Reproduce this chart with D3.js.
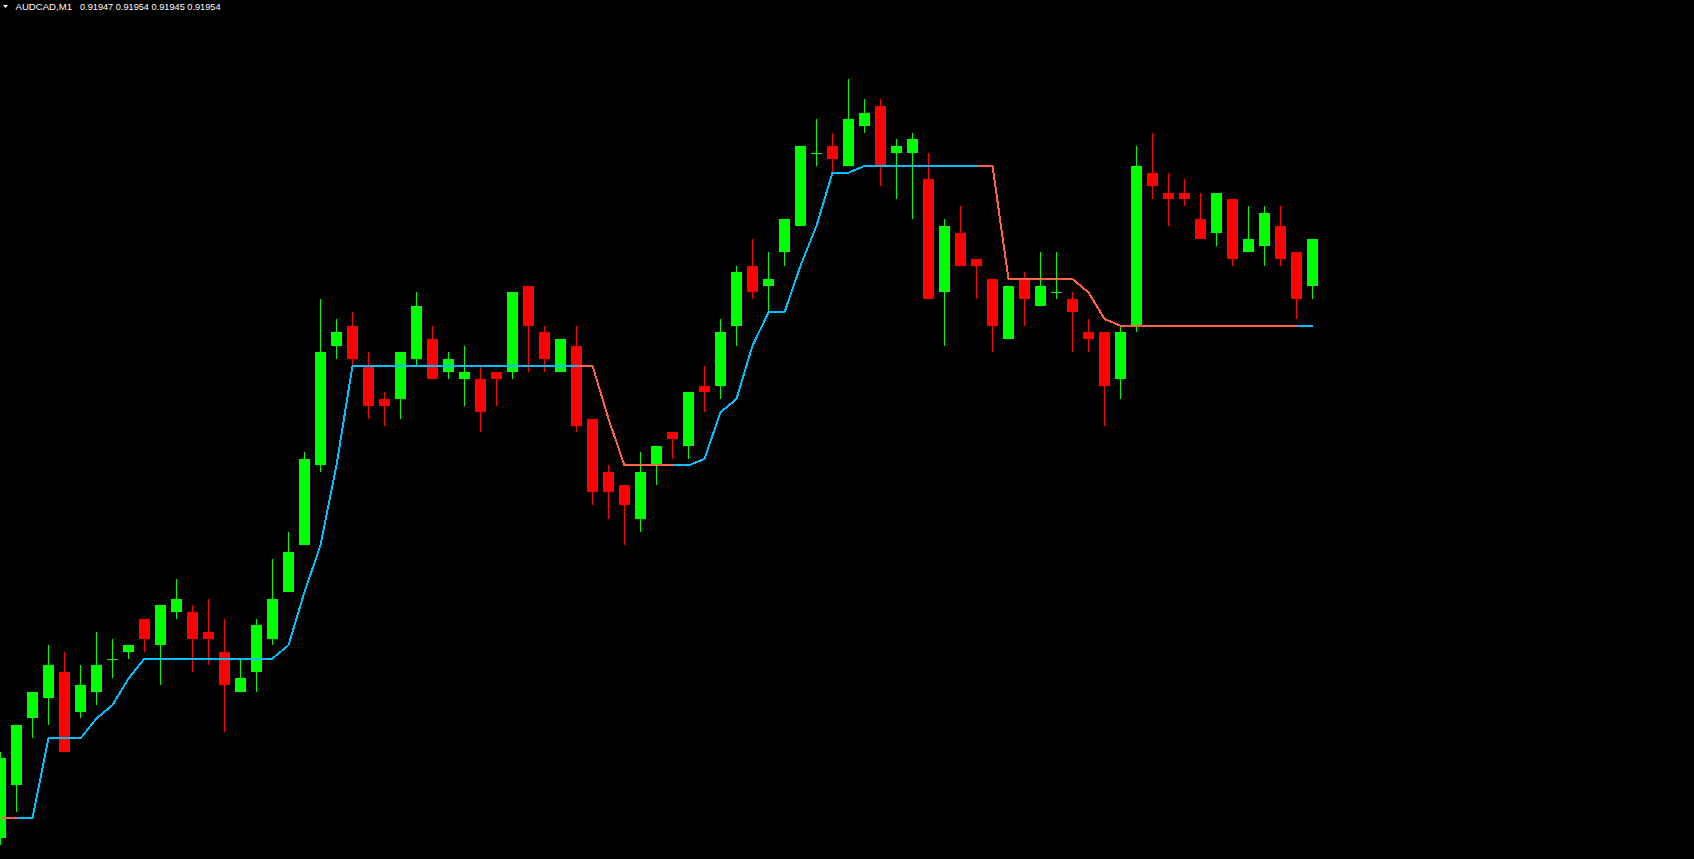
<!DOCTYPE html>
<html lang="en">

<head>
    <meta charset="UTF-8">
    <title>AUDCAD,M1</title>
    <script src="https://d3js.org/d3.v7.min.js"></script>
    <style>
        html, body { margin: 0; padding: 0; background: #000; overflow: hidden; }
    </style>
</head>

<body>
    <div id="chart-container"></div>
    <script>
        const symbol = 'AUDCAD,M1';

        // one value per bar, oldest first
        const openPrices = [
            0.91864, 0.91872, 0.91882, 0.91885, 0.91889, 0.91883, 0.91886, 0.91891, 0.91892, 0.91897,
            0.91893, 0.91898, 0.91898, 0.91895, 0.91892, 0.91886, 0.91889, 0.91894, 0.91901, 0.91908,
            0.91920, 0.91938, 0.91941, 0.91935, 0.91930, 0.91930, 0.91936, 0.91939, 0.91934, 0.91933,
            0.91933, 0.91934, 0.91934, 0.91947, 0.91940, 0.91934, 0.91938, 0.91927, 0.91919, 0.91917,
            0.91912, 0.91920, 0.91925, 0.91923, 0.91932, 0.91932, 0.91941, 0.91950, 0.91947, 0.91952,
            0.91956, 0.91967, 0.91968, 0.91965, 0.91971, 0.91974, 0.91967, 0.91967, 0.91963, 0.91946,
            0.91955, 0.91951, 0.91948, 0.91939, 0.91948, 0.91944, 0.91946, 0.91945, 0.91940, 0.91940,
            0.91933, 0.91941, 0.91964, 0.91961, 0.91961, 0.91957, 0.91955, 0.91960, 0.91952, 0.91953,
            0.91956, 0.91952, 0.91947
        ];
        const highPrices = [
            0.91877, 0.91881, 0.91886, 0.91893, 0.91892, 0.91890, 0.91895, 0.91894, 0.91893, 0.91897,
            0.91899, 0.91903, 0.91899, 0.91900, 0.91897, 0.91891, 0.91897, 0.91906, 0.91910, 0.91922,
            0.91945, 0.91942, 0.91943, 0.91937, 0.91931, 0.91937, 0.91946, 0.91941, 0.91937, 0.91938,
            0.91935, 0.91934, 0.91946, 0.91947, 0.91941, 0.91939, 0.91941, 0.91927, 0.91920, 0.91917,
            0.91922, 0.91923, 0.91925, 0.91931, 0.91935, 0.91942, 0.91950, 0.91954, 0.91952, 0.91957,
            0.91968, 0.91972, 0.91970, 0.91978, 0.91975, 0.91975, 0.91969, 0.91970, 0.91967, 0.91957,
            0.91959, 0.91951, 0.91948, 0.91947, 0.91949, 0.91952, 0.91952, 0.91946, 0.91942, 0.91940,
            0.91941, 0.91968, 0.91970, 0.91964, 0.91963, 0.91961, 0.91961, 0.91960, 0.91959, 0.91959,
            0.91959, 0.91952, 0.91954
        ];
        const lowPrices = [
            0.91863, 0.91868, 0.91879, 0.91881, 0.91877, 0.91882, 0.91884, 0.91888, 0.91891, 0.91892,
            0.91887, 0.91897, 0.91889, 0.91890, 0.91880, 0.91886, 0.91886, 0.91893, 0.91901, 0.91908,
            0.91919, 0.91936, 0.91935, 0.91927, 0.91926, 0.91927, 0.91935, 0.91933, 0.91933, 0.91929,
            0.91925, 0.91929, 0.91933, 0.91934, 0.91934, 0.91934, 0.91925, 0.91914, 0.91912, 0.91908,
            0.91910, 0.91917, 0.91921, 0.91921, 0.91928, 0.91930, 0.91938, 0.91945, 0.91943, 0.91950,
            0.91956, 0.91965, 0.91964, 0.91965, 0.91970, 0.91962, 0.91960, 0.91957, 0.91945, 0.91938,
            0.91950, 0.91945, 0.91937, 0.91939, 0.91941, 0.91944, 0.91945, 0.91937, 0.91937, 0.91926,
            0.91930, 0.91940, 0.91960, 0.91956, 0.91959, 0.91954, 0.91953, 0.91950, 0.91952, 0.91950,
            0.91950, 0.91942, 0.91945
        ];
        const closePrices = [
            0.91876, 0.91881, 0.91886, 0.91890, 0.91877, 0.91887, 0.91890, 0.91891, 0.91893, 0.91894,
            0.91899, 0.91900, 0.91894, 0.91894, 0.91887, 0.91888, 0.91896, 0.91900, 0.91907, 0.91921,
            0.91937, 0.91940, 0.91936, 0.91929, 0.91929, 0.91937, 0.91944, 0.91933, 0.91936, 0.91934,
            0.91928, 0.91933, 0.91946, 0.91941, 0.91936, 0.91939, 0.91926, 0.91916, 0.91916, 0.91914,
            0.91919, 0.91923, 0.91924, 0.91931, 0.91931, 0.91940, 0.91949, 0.91946, 0.91948, 0.91957,
            0.91968, 0.91967, 0.91966, 0.91972, 0.91973, 0.91965, 0.91968, 0.91969, 0.91945, 0.91956,
            0.91950, 0.91950, 0.91941, 0.91947, 0.91945, 0.91947, 0.91946, 0.91943, 0.91939, 0.91932,
            0.91940, 0.91965, 0.91962, 0.91960, 0.91960, 0.91954, 0.91961, 0.91951, 0.91954, 0.91958,
            0.91951, 0.91945, 0.91954
        ];

        // trailing stop, split in two buffers like the indicator does (null = empty)
        const upStop = [
            null, 0.91867, 0.91867, 0.91879, 0.91879, 0.91879, 0.91882, 0.91884, 0.91888, 0.91891,
            0.91891, 0.91891, 0.91891, 0.91891, 0.91891, 0.91891, 0.91891, 0.91891, 0.91893, 0.91901,
            0.91908, 0.91920, 0.91935, 0.91935, 0.91935, 0.91935, 0.91935, 0.91935, 0.91935, 0.91935,
            0.91935, 0.91935, 0.91935, 0.91935, 0.91935, 0.91935, 0.91935, null, null, null,
            null, null, 0.91920, 0.91920, 0.91921, 0.91928, 0.91930, 0.91938, 0.91943, 0.91943,
            0.91950, 0.91956, 0.91964, 0.91964, 0.91965, 0.91965, 0.91965, 0.91965, 0.91965, 0.91965,
            0.91965, 0.91965, null, null, null, null, null, null, null, null,
            null, null, null, null, null, null, null, null, null, null,
            null, 0.91941, 0.91941
        ];
        const downStop = [
            0.91867, 0.91867, null, null, null, null, null, null, null, null,
            null, null, null, null, null, null, null, null, null, null,
            null, null, null, null, null, null, null, null, null, null,
            null, null, null, null, null, null, 0.91935, 0.91935, 0.91927, 0.91920,
            0.91920, 0.91920, 0.91920, null, null, null, null, null, null, null,
            null, null, null, null, null, null, null, null, null, null,
            null, 0.91965, 0.91965, 0.91948, 0.91948, 0.91948, 0.91948, 0.91948, 0.91946, 0.91942,
            0.91941, 0.91941, 0.91941, 0.91941, 0.91941, 0.91941, 0.91941, 0.91941, 0.91941, 0.91941,
            0.91941, 0.91941, null
        ];

        const width = 1694;
        const height = 859;
        const bullColor = '#00ff00';
        const bearColor = '#ff0000';

        const bars = openPrices.map((o, i) => ({
            i: i,
            open: o,
            high: highPrices[i],
            low: lowPrices[i],
            close: closePrices[i]
        }));

        const svg = d3.select('#chart-container')
            .append('svg')
            .attr('width', width)
            .attr('height', height)
            .style('display', 'block')
            .style('background', '#000');

        // bar index -> pixel centre, 16px per bar
        const x = d3.scaleLinear()
            .domain([0, bars.length - 1])
            .range([0.5, 0.5 + 16 * (bars.length - 1)]);

        // price -> pixel (no price axis is shown on this chart)
        const y = d3.scaleLinear()
            .domain([0.91868, 0.91968])
            .range([811.6, 146]);

        const color = d => d.close >= d.open ? bullColor : bearColor;

        // wicks
        svg.append('g')
            .attr('shape-rendering', 'crispEdges')
            .selectAll('line')
            .data(bars)
            .enter()
            .append('line')
            .attr('x1', d => x(d.i))
            .attr('x2', d => x(d.i))
            .attr('y1', d => y(d.high))
            .attr('y2', d => y(d.low))
            .attr('stroke', color)
            .attr('stroke-width', 1);

        // bodies (a doji still gets a 1px line)
        svg.append('g')
            .attr('shape-rendering', 'crispEdges')
            .selectAll('rect')
            .data(bars)
            .enter()
            .append('rect')
            .attr('x', d => x(d.i) - 5.5)
            .attr('width', 11)
            .attr('y', d => y(Math.max(d.open, d.close)))
            .attr('height', d => Math.max(1, y(Math.min(d.open, d.close)) - y(Math.max(d.open, d.close))))
            .attr('fill', color);

        // trailing stop lines
        const stopLine = d3.line()
            .defined(d => d != null)
            .x((d, i) => x(i))
            .y(d => y(d));

        svg.append('path')
            .datum(upStop)
            .attr('d', stopLine)
            .attr('fill', 'none')
            .attr('stroke', '#00bfff')
            .attr('stroke-width', 2)
            .attr('shape-rendering', 'crispEdges');

        svg.append('path')
            .datum(downStop)
            .attr('d', stopLine)
            .attr('fill', 'none')
            .attr('stroke', '#ff6347')
            .attr('stroke-width', 2)
            .attr('shape-rendering', 'crispEdges');

        // header: symbol and OHLC of the last bar
        const last = bars[bars.length - 1];
        const fmt = d3.format('.5f');

        svg.append('path')
            .attr('d', 'M3,5 L8,5 L5.5,8 Z')
            .attr('fill', '#ffffff');

        const header = svg.append('g')
            .attr('fill', '#ffffff')
            .attr('font-family', 'Liberation Sans, Arial, sans-serif');

        header.append('text')
            .attr('x', 15.5)
            .attr('y', 9.5)
            .attr('font-size', '9.6px')
            .text(symbol);

        header.append('text')
            .attr('x', 80)
            .attr('y', 9.5)
            .attr('font-size', '9.2px')
            .text([last.open, last.high, last.low, last.close].map(fmt).join(' '));
    </script>
</body>

</html>
